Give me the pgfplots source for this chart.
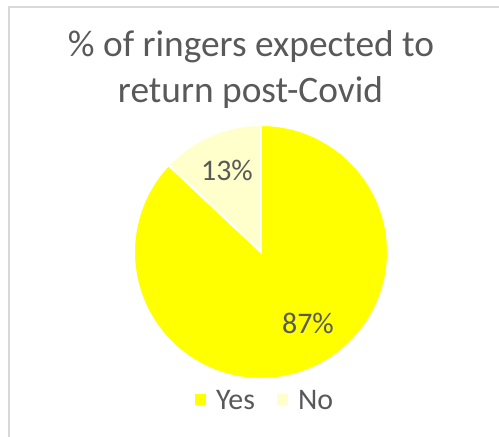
\documentclass[border=0pt]{standalone}
\usepackage{pgfplots}
\pgfplotsset{compat=1.18}
\usepackage{pgfplotstable}
\usepackage{fontspec}
\setmainfont{Carlito}
\definecolor{yesc}{HTML}{FFFF00}
\definecolor{noc}{HTML}{FFFFCC}
\definecolor{txt}{HTML}{595959}
\definecolor{brd}{HTML}{D9D9D9}

\pgfplotstableread{
label value
Yes 87
No 13
}\piedata

\begin{document}
\begin{tikzpicture}
\pgfplotstablegetelem{0}{value}\of\piedata \let\vyes\pgfplotsretval
\pgfplotstablegetelem{1}{value}\of\piedata \let\vno\pgfplotsretval
\pgfmathsetmacro\tot{\vyes+\vno}
\pgfmathsetmacro\frac{\vyes/\tot}
\pgfmathsetmacro\ayes{90-360*\frac}
\begin{axis}[at={(0,0)}, anchor=center, x=127bp, y=127bp,
  xmin=-1, xmax=1, ymin=-1, ymax=1, hide axis, clip=false,
  legend style={at={(0.512,-0.087)}, anchor=center, draw=none, fill=none,
    legend columns=2, font=\fontsize{30}{36}\selectfont, text=txt,
    nodes={inner sep=0pt},
    /tikz/every odd column/.append style={column sep=10bp},
    /tikz/every even column/.append style={column sep=22bp}},
  legend image code/.code={\fill[#1, draw=none] (0bp,-4bp) rectangle (11bp,7bp);},
]
\addlegendimage{fill=yesc}
\addlegendentry{Yes}
\addlegendimage{fill=noc}
\addlegendentry{No}
\fill[yesc, draw=white, line width=2bp] (axis cs:0,0) -- (axis cs:0,1)
  arc[start angle=90, end angle=\ayes, radius=127bp] -- cycle;
\fill[noc, draw=white, line width=2bp] (axis cs:0,0) -- (axis cs:{cos(\ayes)},{sin(\ayes)})
  arc[start angle=\ayes, end angle=-270, radius=127bp] -- cycle;
\node[font=\fontsize{30}{36}\selectfont, text=txt] at (axis cs:-0.268,0.646) {13\%};
\node[font=\fontsize{30}{36}\selectfont, text=txt] at (axis cs:0.37,-0.559) {87\%};
\end{axis}
\node[anchor=base, font=\fontsize{37.5}{45}\selectfont, text=txt] at (-10bp,195bp) {\% of ringers expected to};
\node[anchor=base, font=\fontsize{37.5}{45}\selectfont, text=txt] at (-10.5bp,149bp) {return post-Covid};
\draw[brd, line width=1.5bp] (-252bp,-190bp) -- (-252bp,245bp) -- (240bp,245bp);
\pgfresetboundingbox
\path[use as bounding box] (-261bp,-185bp) rectangle (238bp,252bp);
\end{tikzpicture}
\end{document}
